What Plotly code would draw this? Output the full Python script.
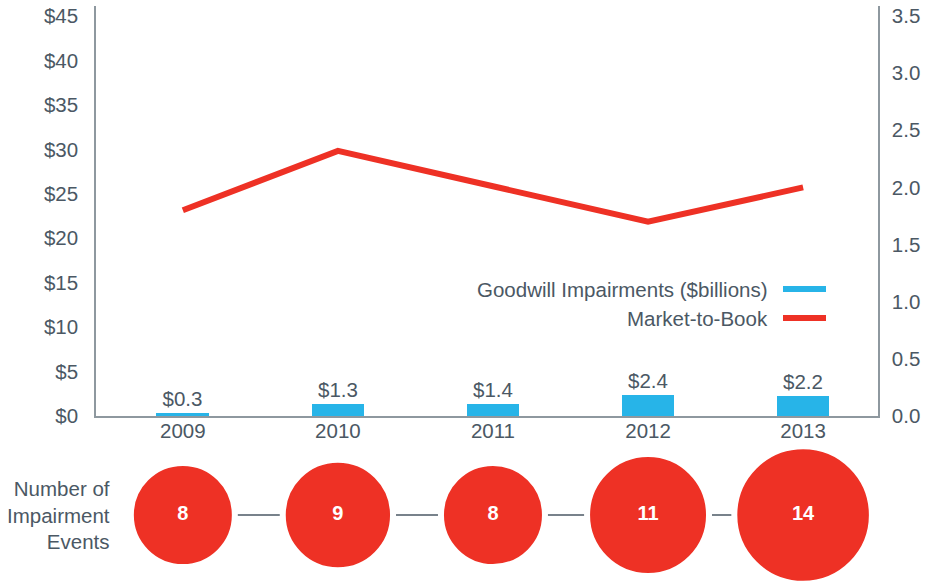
import plotly.graph_objects as go

# Data
years = ["2009", "2010", "2011", "2012", "2013"]
goodwill_impairments = [0.3, 1.3, 1.4, 2.4, 2.2]      # $ billions
market_to_book = [1.80, 2.32, 2.01, 1.70, 2.00]
impairment_events = [8, 9, 8, 11, 14]

left_ticks = [0, 5, 10, 15, 20, 25, 30, 35, 40, 45]
right_ticks = [0.0, 0.5, 1.0, 1.5, 2.0, 2.5, 3.0, 3.5]

# Styling
TEXT = "#4b5864"
AXIS = "#8e989f"
BLUE = "#27b4e8"
RED = "#ee3125"
FONT = "Liberation Sans"
FS = 20.5

W, H = 934, 582
M_L, M_R, M_T, M_B = 96, 56, 6, 0
plot_w = W - M_L - M_R
plot_h = H - M_T - M_B


def px_x(p):
    return (p - M_L) / plot_w


def px_y(p):
    return (H - M_B - p) / plot_h


fig = go.Figure()

# Goodwill impairment bars
fig.add_trace(go.Bar(
    x=years, y=goodwill_impairments,
    marker=dict(color=BLUE, line=dict(width=0)),
    width=0.34,
    text=[f"${v:.1f}" for v in goodwill_impairments],
    textposition="outside",
    textfont=dict(family=FONT, size=FS, color=TEXT),
    constraintext="none",
    cliponaxis=False,
    showlegend=False,
    hoverinfo="skip",
))

# Market-to-book line on the right axis
fig.add_trace(go.Scatter(
    x=years, y=market_to_book, yaxis="y2",
    mode="lines",
    line=dict(color=RED, width=6),
    showlegend=False,
    hoverinfo="skip",
))

# Connector behind the event bubbles
fig.add_trace(go.Scatter(
    x=years, y=[0] * len(years), yaxis="y3",
    mode="lines",
    line=dict(color=TEXT, width=1.5),
    showlegend=False,
    hoverinfo="skip",
))

# Event-count bubbles (area proportional to count; 8 events -> ~104 px)
fig.add_trace(go.Scatter(
    x=years, y=[0] * len(years), yaxis="y3",
    mode="markers+text",
    marker=dict(
        size=impairment_events, sizemode="area", sizeref=8 / (2 * 52 ** 2),
        color=RED, opacity=1, line=dict(color="white", width=6),
    ),
    text=[str(n) for n in impairment_events],
    textposition="middle center",
    textfont=dict(family=FONT, size=20, color="white", weight="bold"),
    cliponaxis=False,
    showlegend=False,
    hoverinfo="skip",
))

main_bottom = px_y(416)
bubble_top = 2 * px_y(515)

fig.update_layout(
    width=W, height=H,
    margin=dict(l=M_L, r=M_R, t=M_T, b=M_B, autoexpand=False),
    paper_bgcolor="white", plot_bgcolor="white",
    font=dict(family=FONT, size=FS, color=TEXT),
    bargap=0,
    xaxis=dict(
        type="category", range=[-0.56, 4.483],
        showline=True, linecolor=AXIS, linewidth=1.5,
        showgrid=False, zeroline=False, ticks="",
        ticklabelstandoff=-4, automargin=False,
        tickfont=dict(family=FONT, size=FS, color=TEXT),
        anchor="y",
    ),
    yaxis=dict(
        domain=[main_bottom, 1], range=[0, 46.125],
        tickvals=left_ticks, ticktext=[f"${v}" for v in left_ticks],
        showline=True, linecolor=AXIS, linewidth=1.5,
        showgrid=False, zeroline=False, ticks="",
        ticklabelstandoff=12, automargin=False,
        tickfont=dict(family=FONT, size=FS, color=TEXT),
    ),
    yaxis2=dict(
        overlaying="y", side="right", range=[0, 3.5875],
        tickvals=right_ticks, ticktext=[f"{v:.1f}" for v in right_ticks],
        showline=True, linecolor=AXIS, linewidth=1.5,
        showgrid=False, zeroline=False, ticks="",
        ticklabelstandoff=8, automargin=False,
        tickfont=dict(family=FONT, size=FS, color=TEXT),
        anchor="x",
    ),
    yaxis3=dict(
        domain=[0, bubble_top], range=[-1, 1],
        visible=False, anchor="x",
    ),
)

# Legend drawn to the left of its line samples
legend_items = [("Goodwill Impairments ($billions)", BLUE, 289),
                ("Market-to-Book", RED, 318)]
for label, color, ypx in legend_items:
    fig.add_annotation(
        x=px_x(770), y=px_y(ypx), xref="paper", yref="paper",
        text=label, showarrow=False, xanchor="right", yanchor="middle",
        font=dict(family=FONT, size=FS, color=TEXT),
    )
    fig.add_shape(
        type="line", xref="paper", yref="paper",
        x0=px_x(783), x1=px_x(826), y0=px_y(ypx), y1=px_y(ypx),
        line=dict(color=color, width=6),
    )

# Row label for the bubbles
fig.add_annotation(
    x=px_x(112), y=px_y(515), xref="paper", yref="paper",
    text="Number of<br>Impairment<br>Events", showarrow=False,
    xanchor="right", yanchor="middle", align="right",
    font=dict(family=FONT, size=FS, color=TEXT),
)

fig.write_html("out.html")
